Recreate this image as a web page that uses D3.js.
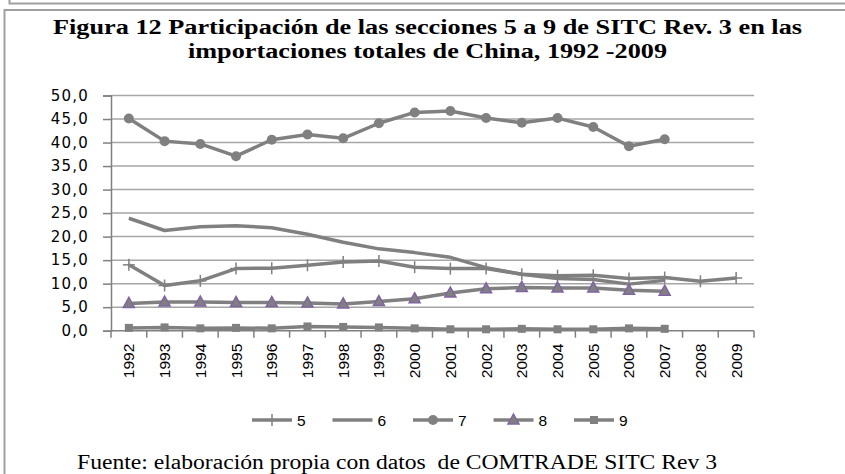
<!DOCTYPE html>
<html><head><meta charset="utf-8">
<script src="https://cdn.jsdelivr.net/npm/d3@7"></script>
<style>
html,body{margin:0;padding:0;background:#fff;}
svg{display:block;}
</style></head>
<body>
<svg id="c" width="845" height="474"></svg>
<script>
const years = ["1992","1993","1994","1995","1996","1997","1998","1999","2000","2001","2002","2003","2004","2005","2006","2007","2008","2009"];
const yTicks = [0,5,10,15,20,25,30,35,40,45,50];
const s5 = [14.0, 9.6, 10.6, 13.2, 13.3, 13.9, 14.6, 14.8, 13.5, 13.2, 13.2, 12.0, 11.7, 11.8, 11.1, 11.3, 10.5, 11.2];
const s6 = [23.9, 21.3, 22.1, 22.3, 21.9, 20.5, 18.8, 17.4, 16.6, 15.6, 13.4, 12.0, 11.1, 10.9, 9.9, 10.7];
const s7 = [45.1, 40.3, 39.7, 37.1, 40.6, 41.7, 40.9, 44.1, 46.4, 46.7, 45.2, 44.2, 45.2, 43.3, 39.2, 40.7];
const s8 = [5.8, 6.1, 6.1, 6.0, 6.0, 5.9, 5.7, 6.2, 6.8, 8.0, 8.9, 9.2, 9.1, 9.1, 8.6, 8.4];
const s9 = [0.6, 0.7, 0.5, 0.6, 0.5, 0.9, 0.8, 0.7, 0.5, 0.3, 0.3, 0.4, 0.3, 0.3, 0.5, 0.4];
const seriesNames = ["5","6","7","8","9"];
const titleLines = ["Figura 12 Participación de las secciones 5 a 9 de SITC Rev. 3 en las","importaciones totales de China, 1992 -2009"];
const sourceText = "Fuente: elaboración propia con datos  de COMTRADE SITC Rev 3";

const series = [
  {name:seriesNames[0], values:s5, marker:"plus"},
  {name:seriesNames[1], values:s6, marker:"none"},
  {name:seriesNames[2], values:s7, marker:"circle"},
  {name:seriesNames[3], values:s8, marker:"triangle"},
  {name:seriesNames[4], values:s9, marker:"square"}
];

const svg = d3.select("#c");
const lineColor = "#808080";
const gridColor = "#a6a6a6";
const purple = "#8064A2";

// frame
svg.append("path").attr("d","M9.5,0 V3.5 H845").attr("fill","none").attr("stroke","#a0a0a0").attr("stroke-width",2);
svg.append("path").attr("d","M4.5,474 V10 H845").attr("fill","none").attr("stroke","#a0a0a0").attr("stroke-width",2);

// title (horizontally stretched like the reference)
const titleWidths = [749, 479];
svg.selectAll("text.title").data(titleLines).join("text")
  .attr("class","title")
  .attr("x",427.5).attr("y",(d,i)=>34+i*24)
  .attr("text-anchor","middle")
  .attr("font-family","'Liberation Serif','Times New Roman',serif")
  .attr("font-weight","bold").attr("font-size",20)
  .attr("textLength",(d,i)=>titleWidths[i]).attr("lengthAdjust","spacingAndGlyphs")
  .attr("fill","#000")
  .text(d=>d);

const pLeft = 111, pRight = 754, pTop = 95.5, pBottom = 330.7;
const x = d3.scaleBand().domain(years).range([pLeft,pRight]).padding(0);
const y = d3.scaleLinear().domain([0,50]).range([pBottom, pTop]);
const cx = d => x(d) + x.bandwidth()/2;

// gridlines
svg.append("g").selectAll("line").data(yTicks.filter(t=>t>0)).join("line")
  .attr("x1",pLeft).attr("x2",pRight).attr("y1",d=>y(d)).attr("y2",d=>y(d))
  .attr("stroke",gridColor).attr("stroke-width",1.5);

// y axis
const yAxis = d3.axisLeft(y).tickValues(yTicks).tickSize(8).tickPadding(14)
  .tickFormat(d=>d3.format(".1f")(d).replace(".",","));
const gy = svg.append("g").attr("transform",`translate(${pLeft},0)`).call(yAxis);
gy.select(".domain").attr("stroke",lineColor).attr("stroke-width",1.5);
gy.selectAll(".tick line").attr("stroke",lineColor).attr("stroke-width",1.5);
gy.selectAll(".tick text").attr("font-family","'DejaVu Sans',sans-serif").attr("font-size",15)
  .attr("letter-spacing","1.2px").attr("fill","#000");

// x axis with ticks between categories
const gx = svg.append("g").attr("transform",`translate(0,${pBottom})`);
gx.append("line").attr("x1",pLeft).attr("x2",pRight).attr("stroke",lineColor).attr("stroke-width",1.5);
const bounds = years.map(d=>x(d)).concat([pRight]);
gx.selectAll("line.tk").data(bounds).join("line").attr("class","tk")
  .attr("x1",d=>d).attr("x2",d=>d).attr("y1",0).attr("y2",7)
  .attr("stroke",lineColor).attr("stroke-width",1.5);
gx.selectAll("text").data(years).join("text")
  .attr("transform",d=>`translate(${cx(d)+5.5},13) rotate(-90)`)
  .attr("text-anchor","end")
  .attr("font-family","'Liberation Sans',Arial,sans-serif").attr("font-size",15.5)
  .attr("fill","#000")
  .text(d=>d);

// lines
const lineGen = d3.line().x((d,i)=>cx(years[i])).y(d=>y(d));
function drawMarker(g, type, px, py){
  if(type==="circle"){
    g.append("circle").attr("cx",px).attr("cy",py).attr("r",5).attr("fill",lineColor);
  } else if(type==="square"){
    g.append("rect").attr("x",px-4).attr("y",py-4).attr("width",8).attr("height",8).attr("fill",lineColor);
  } else if(type==="triangle"){
    g.append("path").attr("d",`M${px},${py-6} L${px+5.5},${py+4} L${px-5.5},${py+4} Z`)
      .attr("fill",lineColor).attr("stroke",purple).attr("stroke-width",1.5);
  } else if(type==="plus"){
    g.append("line").attr("x1",px).attr("x2",px).attr("y1",py-6).attr("y2",py+6)
      .attr("stroke",lineColor).attr("stroke-width",1.5);
    g.append("line").attr("x1",px-6).attr("x2",px+6).attr("y1",py).attr("y2",py)
      .attr("stroke",lineColor).attr("stroke-width",1.5);
  }
}
series.forEach(s=>{
  const g = svg.append("g");
  g.append("path").attr("d",lineGen(s.values)).attr("fill","none")
    .attr("stroke",lineColor).attr("stroke-width",3.5).attr("stroke-linejoin","round");
  s.values.forEach((v,i)=>drawMarker(g, s.marker, cx(years[i]), y(v)));
});

// legend
const lg = svg.append("g");
series.forEach((s,i)=>{
  const x0 = 252 + i*80.5, ly = 420;
  lg.append("line").attr("x1",x0).attr("x2",x0+40).attr("y1",ly).attr("y2",ly)
    .attr("stroke",lineColor).attr("stroke-width",3.5);
  drawMarker(lg, s.marker, x0+20, ly);
  lg.append("text").attr("x",x0+45).attr("y",ly+5.5)
    .attr("font-family","'Liberation Sans',Arial,sans-serif").attr("font-size",15.5)
    .attr("fill","#000").text(s.name);
});

// source
svg.append("text").attr("x",77).attr("y",469)
  .attr("font-family","'Liberation Serif','Times New Roman',serif").attr("font-size",20)
  .attr("textLength",640).attr("lengthAdjust","spacingAndGlyphs")
  .attr("fill","#000").attr("xml:space","preserve").style("white-space","pre")
  .text(sourceText);
</script>
</body></html>
